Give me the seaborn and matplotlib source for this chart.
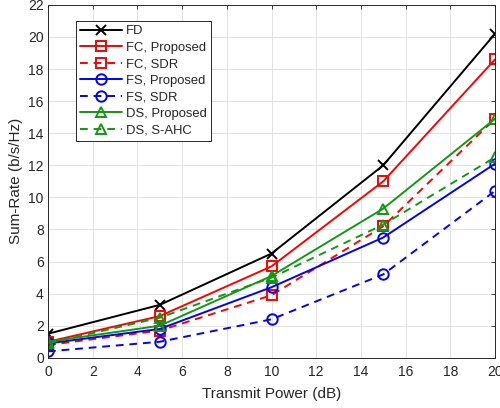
import matplotlib
matplotlib.use("Agg")
import matplotlib.pyplot as plt
import seaborn as sns
import pandas as pd

sns.set_theme(style="whitegrid")
plt.rcParams['font.family'] = ['Liberation Sans', 'DejaVu Sans']

power_db = [0, 5, 10, 15, 20]
fd = [1.5, 3.3, 6.5, 12.0, 20.2]
fc_proposed = [1.0, 2.6, 5.7, 11.0, 18.6]
fc_sdr = [0.8, 1.7, 3.9, 8.2, 14.9]
fs_proposed = [0.9, 1.8, 4.4, 7.5, 12.1]
fs_sdr = [0.4, 1.0, 2.4, 5.2, 10.4]
ds_proposed = [1.0, 2.0, 5.1, 9.3, 14.9]
ds_sahc = [0.9, 2.5, 5.0, 8.3, 12.5]

labels = ["FD", "FC, Proposed", "FC, SDR", "FS, Proposed", "FS, SDR",
          "DS, Proposed", "DS, S-AHC"]
series = [fd, fc_proposed, fc_sdr, fs_proposed, fs_sdr, ds_proposed, ds_sahc]

dash = (0, (4, 3))
styles = [
    dict(color="black", marker="x", linestyle="-"),
    dict(color="#ff0000", marker="s", linestyle="-"),
    dict(color="#ff0000", marker="s", linestyle=dash),
    dict(color="#0000ff", marker="o", linestyle="-"),
    dict(color="#0000ff", marker="o", linestyle=dash),
    dict(color="#119911", marker="^", linestyle="-"),
    dict(color="#119911", marker="^", linestyle=dash),
]

fig = plt.figure(figsize=(5.0, 4.08), dpi=100)
ax = fig.add_axes([0.096, 0.123, 0.894, 0.865])

for lab, vals, st in zip(labels, series, styles):
    df = pd.DataFrame({"x": power_db, "y": vals})
    sns.lineplot(data=df, x="x", y="y", ax=ax, label=lab,
                 color=st["color"], marker=st["marker"],
                 linestyle=st["linestyle"], linewidth=1.4,
                 markersize=7.5 if st["marker"] != "x" else 7,
                 markerfacecolor="none", markeredgecolor=st["color"],
                 markeredgewidth=1.4)

ax.set_xlim(0, 20)
ax.set_ylim(0, 22)
ax.set_xticks(range(0, 21, 2))
ax.set_yticks(range(0, 23, 2))
ax.set_xlabel("Transmit Power (dB)", fontsize=11, color="#262626", labelpad=6)
ax.set_ylabel("Sum-Rate (b/s/Hz)", fontsize=11, color="#262626", labelpad=4)
ax.tick_params(axis="both", labelsize=10, colors="#262626", direction="in",
               length=3, width=0.6, pad=3, top=True, right=True)
ax.tick_params(axis="x", pad=5)
ax.grid(True, color="#e2e2e2", linewidth=0.7)
ax.set_facecolor("white")
for sp in ax.spines.values():
    sp.set_color("#262626")
    sp.set_linewidth(0.7)

leg = ax.legend(loc="upper left", bbox_to_anchor=(0.062, 0.955), fontsize=9.4,
                handlelength=3.2, handletextpad=0.3, labelspacing=0.33,
                borderpad=0.35, borderaxespad=0, frameon=True, fancybox=False,
                framealpha=1)
leg.get_frame().set_edgecolor("#262626")
leg.get_frame().set_linewidth(0.7)

fig.savefig("out.png", dpi=100)
